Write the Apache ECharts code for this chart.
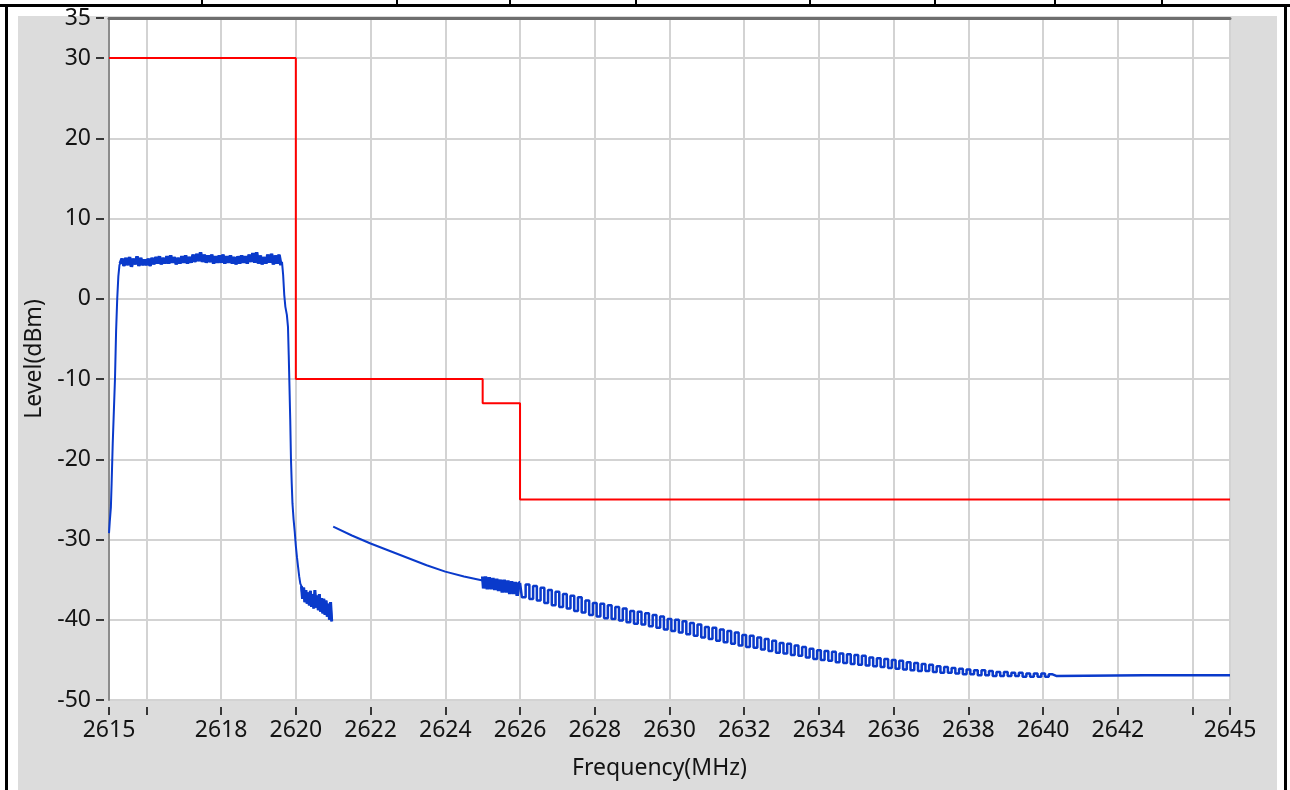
<!DOCTYPE html>
<html><head><meta charset="utf-8">
<script src="https://cdn.jsdelivr.net/npm/echarts@6/dist/echarts.min.js"></script>
<style>
html,body{margin:0;padding:0;background:#fff;width:1290px;height:790px;overflow:hidden;position:relative}
.blk{position:absolute;background:#000}
#panel{position:absolute;left:18px;top:16px;width:1259px;height:774px;background:#dcdcdc}
#chart{position:absolute;left:0;top:0;width:1290px;height:790px}
</style></head><body>
<div class="blk" style="left:0;top:4px;width:1290px;height:3px"></div>
<div class="blk" style="left:5px;top:4px;width:3px;height:786px"></div>
<div class="blk" style="left:1284px;top:4px;width:3px;height:786px"></div>
<div class="blk" style="left:201px;top:0;width:2px;height:5px"></div>
<div class="blk" style="left:396px;top:0;width:2px;height:5px"></div>
<div class="blk" style="left:509px;top:0;width:2px;height:5px"></div>
<div class="blk" style="left:635px;top:0;width:2px;height:5px"></div>
<div class="blk" style="left:809px;top:0;width:2px;height:5px"></div>
<div class="blk" style="left:934px;top:0;width:2px;height:5px"></div>
<div class="blk" style="left:1054px;top:0;width:2px;height:5px"></div>
<div class="blk" style="left:1161px;top:0;width:2px;height:5px"></div>
<div id="panel"></div>
<div id="chart"></div>
<script>
// ---- Axis ticks / labels ----
const xTickValues = [2615, 2616, 2618, 2620, 2622, 2624, 2626, 2628, 2630, 2632, 2634, 2636, 2638, 2640, 2642, 2644, 2645];
const xLabelValues = [2615, 2618, 2620, 2622, 2624, 2626, 2628, 2630, 2632, 2634, 2636, 2638, 2640, 2642, 2645];
const yTickValues = [-50, -40, -30, -20, -10, 0, 10, 20, 30, 35];

// ---- Limit mask (red) ----
const limitFreq = [2615, 2620, 2620, 2625, 2625, 2626, 2626, 2645];
const limitLevel = [30, 30, -10, -10, -13, -13, -25, -25];

// ---- Measured spectrum (blue), channel part ----
const riseFreq = [2615.00, 2615.02, 2615.05, 2615.07, 2615.10, 2615.13, 2615.16, 2615.19, 2615.22, 2615.25, 2615.28];
const riseLevel = [-29.2, -27.8, -26.0, -23.0, -18.0, -14.0, -10.0, -4.0, 0.0, 2.8, 4.2];

const band1Start = 2615.30, band1Step = 0.05;
const band1Level = [
  4.4, 5.0, 4.1, 5.1, 4.2, 5.2, 4.0, 5.0, 4.3, 5.3,
  4.1, 5.1, 4.2, 4.9, 4.2, 5.0, 4.1, 5.1, 4.3, 5.2,
  4.4, 5.3, 4.3, 5.1, 4.4, 5.3, 4.4, 5.4, 4.5, 5.2,
  4.3, 5.1, 4.4, 5.3, 4.5, 5.4, 4.4, 5.2, 4.5, 5.5,
  4.6, 5.6, 4.7, 5.8, 4.6, 5.5, 4.5, 5.4, 4.6, 5.5,
  4.4, 5.3, 4.5, 5.4, 4.5, 5.5, 4.4, 5.3, 4.5, 5.4,
  4.4, 5.2, 4.3, 5.3, 4.4, 5.4, 4.5, 5.3, 4.4, 5.5,
  4.6, 5.7, 4.5, 5.8, 4.4, 5.4, 4.3, 5.2, 4.4, 5.5,
  4.5, 5.6, 4.3, 5.4, 4.4, 5.5, 4.2
];

const fallFreq = [2619.63, 2619.66, 2619.69, 2619.72, 2619.76, 2619.79, 2619.81, 2619.83, 2619.85, 2619.87, 2619.89, 2619.91, 2619.94, 2619.97, 2620.00, 2620.03, 2620.06, 2620.09, 2620.12];
const fallLevel = [4.6, 3.0, 0.5, -1.0, -2.0, -3.5, -7.0, -11.0, -15.0, -20.0, -23.0, -25.5, -27.5, -29.0, -30.8, -32.2, -33.4, -34.6, -35.5];

const tailStart = 2620.15, tailStep = 0.03;
const tailLevel = [
  -35.8, -37.4, -36.0, -37.8, -36.3, -38.0, -36.6, -38.2, -36.4, -38.4,
  -36.8, -38.6, -36.3, -38.5, -37.0, -38.8, -36.8, -39.0, -37.3, -39.2,
  -37.4, -39.4, -37.6, -39.6, -38.0, -40.0, -37.8, -40.2
];

// ---- Measured spectrum (blue), out-of-band sweep ----
const sweepFreq = [2621.0, 2621.5, 2622.0, 2622.5, 2623.0, 2623.5, 2624.0, 2624.5, 2625.0];
const sweepLevel = [-28.4, -29.5, -30.5, -31.4, -32.3, -33.2, -34.0, -34.6, -35.1];

const blockStart = 2625.0, blockStep = 0.05;
const blockLevel = [
  -34.6, -36.1, -34.6, -36.2, -34.7, -36.2, -34.8, -36.3, -34.9, -36.4,
  -35.0, -36.6, -35.0, -36.6, -35.1, -36.8, -35.2, -36.8, -35.3, -37.0,
  -35.4
];

const rippleStart = 2626.1, rippleStep = 0.1;
const rippleLevel = [
  -37.2, -35.6, -37.4, -35.8, -37.6, -36.0, -37.9, -36.3, -38.2, -36.5,
  -38.4, -36.8, -38.6, -37.0, -38.9, -37.2, -39.1, -37.6, -39.4, -37.9,
  -39.6, -38.0, -39.8, -38.2, -39.9, -38.4, -40.1, -38.6, -40.3, -38.9,
  -40.5, -39.0, -40.6, -39.2, -40.8, -39.4, -41.0, -39.6, -41.2, -39.9,
  -41.4, -40.0, -41.6, -40.2, -41.8, -40.4, -42.0, -40.6, -42.2, -40.9,
  -42.4, -41.0, -42.6, -41.2, -42.8, -41.4, -43.0, -41.6, -43.2, -41.9,
  -43.4, -42.0, -43.5, -42.2, -43.7, -42.4, -43.9, -42.6, -44.1, -42.9,
  -44.2, -43.0, -44.4, -43.2, -44.5, -43.4, -44.7, -43.6, -44.9, -43.8,
  -45.0, -43.9, -45.1, -44.0, -45.3, -44.2, -45.4, -44.3, -45.5, -44.4,
  -45.6, -44.5, -45.7, -44.7, -45.8, -44.8, -45.9, -44.9, -46.0, -45.0,
  -46.1, -45.1, -46.2, -45.3, -46.3, -45.4, -46.4, -45.5, -46.4, -45.6,
  -46.5, -45.8, -46.6, -45.9, -46.6, -46.0, -46.7, -46.1, -46.8, -46.2,
  -46.8, -46.3, -46.9, -46.3, -46.9, -46.4, -47.0, -46.5, -47.0, -46.5,
  -47.0, -46.6, -47.0, -46.6, -47.1, -46.7, -47.1, -46.7, -47.1, -46.7,
  -47.1, -46.8, -47.0
];

const floorFreq = [2640.4, 2645.0];
const floorLevel = [-46.9, -46.9];

// ---- helpers to build [x, y] pairs for the library ----
function pairs(f, l) { return f.map((x, i) => [x, l[i]]); }
function sampled(start, step, l) { return l.map((v, i) => [Math.round((start + i * step) * 1000) / 1000, v]); }

const bandData = sampled(band1Start, band1Step, band1Level);
const tailData = sampled(tailStart, tailStep, tailLevel);
const blockData = sampled(blockStart, blockStep, blockLevel);
const rippleData = sampled(rippleStart, rippleStep, rippleLevel);

const channelData = [].concat(pairs(riseFreq, riseLevel), bandData, pairs(fallFreq, fallLevel), tailData);
const sweepData = pairs(sweepFreq, sweepLevel);
const rippleAll = [].concat(blockData.slice(-1), rippleData, pairs(floorFreq, floorLevel));

const FONT = 'Noto Sans';
const TXT = '#141414';
const BLUE = '#0a3acb';
const fmt = v => String(v);
function blue(name, data, width, step) {
  return { name, type: 'line', data, showSymbol: false, symbol: 'none', step: step || false,
    lineStyle: { color: BLUE, width }, z: 4 };
}
const chart = echarts.init(document.getElementById('chart'), null, { renderer: 'canvas' });
chart.setOption({
  animation: false,
  backgroundColor: 'transparent',
  grid: { left: 109, top: 18, width: 1121, height: 682, show: true, backgroundColor: '#ffffff', borderWidth: 0 },
  xAxis: [{
    type: 'value', min: 2615, max: 2645, position: 'bottom', offset: 7,
    axisLine: { show: false, onZero: false },
    axisTick: { show: true, customValues: xTickValues, length: 8, lineStyle: { color: '#000', width: 1.5 } },
    axisLabel: { customValues: xLabelValues, formatter: fmt, fontFamily: FONT, fontSize: 23, color: TXT, margin: 12 },
    splitLine: { show: true, lineStyle: { color: '#d3d3d3', width: 2 } },
    name: 'Frequency(MHz)', nameLocation: 'middle', nameGap: 50,
    nameTextStyle: { fontFamily: FONT, fontSize: 23, color: TXT, padding: [0, 20, 0, 0] }
  }, {
    type: 'value', min: 2615, max: 2645, position: 'top',
    axisLine: { show: true, onZero: false, lineStyle: { color: '#6e6e6e', width: 3 } },
    axisTick: { show: false }, axisLabel: { show: false }, splitLine: { show: false }
  }],
  yAxis: [{
    type: 'value', min: -50, max: 35, position: 'left', offset: 5,
    axisLine: { show: false, onZero: false },
    axisTick: { show: true, customValues: yTickValues, length: 8, lineStyle: { color: '#000', width: 1.5 } },
    axisLabel: { customValues: yTickValues, formatter: fmt, fontFamily: FONT, fontSize: 23, color: TXT, margin: 13 },
    splitLine: { show: true, lineStyle: { color: '#d3d3d3', width: 2 } },
    name: 'Level(dBm)', nameLocation: 'middle', nameGap: 54,
    nameTextStyle: { fontFamily: FONT, fontSize: 23, color: TXT }
  }, {
    type: 'value', min: -50, max: 35, position: 'left',
    axisLine: { show: true, onZero: false, lineStyle: { color: '#8c8c8c', width: 2 } },
    axisTick: { show: false }, axisLabel: { show: false }, splitLine: { show: false }
  }],
  series: [
    { name: 'Limit', type: 'line', data: pairs(limitFreq, limitLevel), showSymbol: false, symbol: 'none',
      lineStyle: { color: '#ff0000', width: 2 }, z: 3 },
    blue('Level', channelData, 2),
    blue('Level band', bandData, 3.5),
    blue('Level tail', tailData, 3),
    blue('Level sweep', sweepData, 2),
    blue('Level block', blockData, 3.5, 'middle'),
    blue('Level ripple', rippleAll, 2.5, 'middle')
  ]
});
</script>
</body></html>
